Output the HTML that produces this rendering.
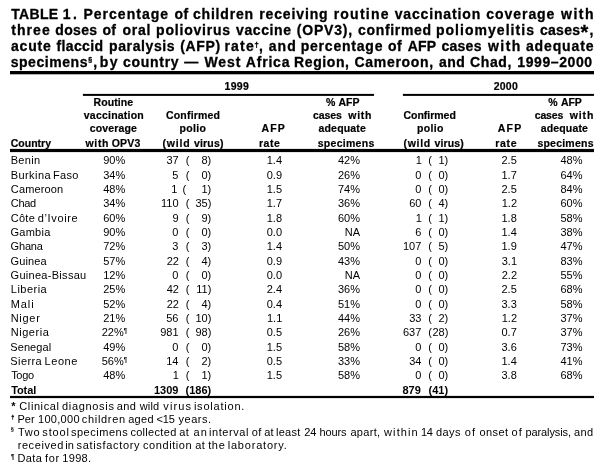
<!DOCTYPE html>
<html lang="en"><head><meta charset="utf-8"><title>TABLE 1</title>
<style>
html,body{margin:0;padding:0;background:#fff;}
body{width:608px;height:473px;overflow:hidden;position:relative;}
svg{position:absolute;left:0;top:0;display:block;}
text{font-family:"Liberation Sans",sans-serif;fill:#000;white-space:pre;}
</style></head><body>
<svg width="608" height="473" viewBox="0 0 608 473">
<rect x="10" y="71" width="584" height="3.299999999999997" fill="#000"/>
<rect x="82.9" y="93.9" width="291.1" height="2.0" fill="#000"/>
<rect x="402.9" y="93.9" width="191.10000000000002" height="2.0" fill="#000"/>
<rect x="10" y="148.9" width="584" height="3.1999999999999886" fill="#000"/>
<rect x="10" y="395.9" width="584" height="2.2000000000000455" fill="#000"/>
<text x="11.20" y="19" style="font-size:14px;font-weight:bold;stroke:#000;stroke-width:0.3px;letter-spacing:0.337px;">TABLE</text>
<text x="62.75" y="19" style="font-size:14px;font-weight:bold;stroke:#000;stroke-width:0.3px;letter-spacing:2.450px;">1.</text>
<text x="83.45" y="19" style="font-size:14px;font-weight:bold;stroke:#000;stroke-width:0.3px;letter-spacing:1.017px;">Percentage</text>
<text x="174.60" y="19" style="font-size:14px;font-weight:bold;stroke:#000;stroke-width:0.3px;letter-spacing:0.250px;">of</text>
<text x="192.95" y="19" style="font-size:14px;font-weight:bold;stroke:#000;stroke-width:0.3px;letter-spacing:0.807px;">children</text>
<text x="259.25" y="19" style="font-size:14px;font-weight:bold;stroke:#000;stroke-width:0.3px;letter-spacing:0.862px;">receiving</text>
<text x="333.65" y="19" style="font-size:14px;font-weight:bold;stroke:#000;stroke-width:0.3px;letter-spacing:1.242px;">routine</text>
<text x="394.70" y="19" style="font-size:14px;font-weight:bold;stroke:#000;stroke-width:0.3px;letter-spacing:0.850px;">vaccination</text>
<text x="486.35" y="19" style="font-size:14px;font-weight:bold;stroke:#000;stroke-width:0.3px;letter-spacing:0.936px;">coverage</text>
<text x="561.10" y="19" style="font-size:14px;font-weight:bold;stroke:#000;stroke-width:0.3px;letter-spacing:1.467px;">with</text>
<text x="11.20" y="35" style="font-size:14px;font-weight:bold;stroke:#000;stroke-width:0.3px;letter-spacing:1.075px;">three</text>
<text x="55.30" y="35" style="font-size:14px;font-weight:bold;stroke:#000;stroke-width:0.3px;letter-spacing:0.350px;">doses</text>
<text x="102.40" y="35" style="font-size:14px;font-weight:bold;stroke:#000;stroke-width:0.3px;letter-spacing:0.250px;">of</text>
<text x="122.45" y="35" style="font-size:14px;font-weight:bold;stroke:#000;stroke-width:0.3px;letter-spacing:0.750px;">oral</text>
<text x="156.05" y="35" style="font-size:14px;font-weight:bold;stroke:#000;stroke-width:0.3px;letter-spacing:0.800px;">poliovirus</text>
<text x="236.10" y="35" style="font-size:14px;font-weight:bold;stroke:#000;stroke-width:0.3px;letter-spacing:0.583px;">vaccine</text>
<text x="296.70" y="35" style="font-size:14px;font-weight:bold;stroke:#000;stroke-width:0.3px;letter-spacing:0.833px;">(OPV3),</text>
<text x="358.05" y="35" style="font-size:14px;font-weight:bold;stroke:#000;stroke-width:0.3px;letter-spacing:0.663px;">confirmed</text>
<text x="435.95" y="35" style="font-size:14px;font-weight:bold;stroke:#000;stroke-width:0.3px;letter-spacing:1.037px;">poliomyelitis</text>
<text x="540.05" y="35" style="font-size:14px;font-weight:bold;stroke:#000;stroke-width:0.3px;letter-spacing:0.250px;">cases</text>
<text x="589.62" y="35" style="font-size:14px;font-weight:bold;stroke:#000;stroke-width:0.3px;letter-spacing:0.250px;">,</text>
<text x="10.95" y="51" style="font-size:14px;font-weight:bold;stroke:#000;stroke-width:0.3px;letter-spacing:0.837px;">acute</text>
<text x="56.50" y="51" style="font-size:14px;font-weight:bold;stroke:#000;stroke-width:0.3px;letter-spacing:0.375px;">flaccid</text>
<text x="109.05" y="51" style="font-size:14px;font-weight:bold;stroke:#000;stroke-width:0.3px;letter-spacing:0.612px;">paralysis</text>
<text x="180.30" y="51" style="font-size:14px;font-weight:bold;stroke:#000;stroke-width:0.3px;letter-spacing:0.637px;">(AFP)</text>
<text x="224.45" y="51" style="font-size:14px;font-weight:bold;stroke:#000;stroke-width:0.3px;letter-spacing:1.183px;">rate</text>
<text x="258.98" y="51" style="font-size:14px;font-weight:bold;stroke:#000;stroke-width:0.3px;letter-spacing:0.250px;">,</text>
<text x="268.85" y="51" style="font-size:14px;font-weight:bold;stroke:#000;stroke-width:0.3px;letter-spacing:0.975px;">and</text>
<text x="300.65" y="51" style="font-size:14px;font-weight:bold;stroke:#000;stroke-width:0.3px;letter-spacing:0.794px;">percentage</text>
<text x="388.10" y="51" style="font-size:14px;font-weight:bold;stroke:#000;stroke-width:0.3px;letter-spacing:0.250px;">of</text>
<text x="407.65" y="51" style="font-size:14px;font-weight:bold;stroke:#000;stroke-width:0.3px;letter-spacing:0.250px;">AFP</text>
<text x="441.50" y="51" style="font-size:14px;font-weight:bold;stroke:#000;stroke-width:0.3px;letter-spacing:0.250px;">cases</text>
<text x="488.00" y="51" style="font-size:14px;font-weight:bold;stroke:#000;stroke-width:0.3px;letter-spacing:1.433px;">with</text>
<text x="525.95" y="51" style="font-size:14px;font-weight:bold;stroke:#000;stroke-width:0.3px;letter-spacing:0.864px;">adequate</text>
<text x="580.60" y="39" style="font-size:20px;font-weight:bold;stroke:#000;stroke-width:0.3px;">*</text>
<text x="254.45" y="47" style="font-size:7.5px;font-weight:bold;stroke:#000;stroke-width:0.35px;">†</text>
<text x="10.70" y="67" style="font-size:14px;font-weight:bold;stroke:#000;stroke-width:0.3px;letter-spacing:0.544px;">specimens</text>
<text x="93.22" y="67" style="font-size:14px;font-weight:bold;stroke:#000;stroke-width:0.3px;letter-spacing:0.250px;">,</text>
<text x="99.85" y="67" style="font-size:14px;font-weight:bold;stroke:#000;stroke-width:0.3px;letter-spacing:1.350px;">by</text>
<text x="123.05" y="67" style="font-size:14px;font-weight:bold;stroke:#000;stroke-width:0.3px;letter-spacing:0.708px;">country</text>
<text x="184.20" y="67" style="font-size:14px;font-weight:bold;stroke:#000;stroke-width:0.3px;letter-spacing:0.250px;">—</text>
<text x="204.40" y="67" style="font-size:14px;font-weight:bold;stroke:#000;stroke-width:0.3px;letter-spacing:0.933px;">West</text>
<text x="245.75" y="67" style="font-size:14px;font-weight:bold;stroke:#000;stroke-width:0.3px;letter-spacing:0.810px;">Africa</text>
<text x="294.05" y="67" style="font-size:14px;font-weight:bold;stroke:#000;stroke-width:0.3px;letter-spacing:0.600px;">Region,</text>
<text x="354.50" y="67" style="font-size:14px;font-weight:bold;stroke:#000;stroke-width:0.3px;letter-spacing:0.700px;">Cameroon,</text>
<text x="438.95" y="67" style="font-size:14px;font-weight:bold;stroke:#000;stroke-width:0.3px;letter-spacing:0.525px;">and</text>
<text x="470.10" y="67" style="font-size:14px;font-weight:bold;stroke:#000;stroke-width:0.3px;letter-spacing:0.600px;">Chad,</text>
<text x="517.25" y="67" style="font-size:14px;font-weight:bold;stroke:#000;stroke-width:0.3px;letter-spacing:0.600px;">1999–2000</text>
<text x="88.25" y="62" style="font-size:7px;font-weight:bold;stroke:#000;stroke-width:0.3px;">§</text>
<text x="224.50" y="90" style="font-size:10.5px;font-weight:bold;stroke:#000;stroke-width:0.2px;letter-spacing:0.333px;">1999</text>
<text x="493.75" y="90" style="font-size:10.5px;font-weight:bold;stroke:#000;stroke-width:0.2px;letter-spacing:0.217px;">2000</text>
<text x="10.75" y="147" style="font-size:10.5px;font-weight:bold;stroke:#000;stroke-width:0.2px;">Country</text>
<text x="93.60" y="106" style="font-size:10.5px;font-weight:bold;stroke:#000;stroke-width:0.2px;letter-spacing:0.075px;">Routine</text>
<text x="83.75" y="119" style="font-size:10.5px;font-weight:bold;stroke:#000;stroke-width:0.2px;letter-spacing:0.225px;">vaccination</text>
<text x="89.75" y="132" style="font-size:10.5px;font-weight:bold;stroke:#000;stroke-width:0.2px;letter-spacing:0.143px;">coverage</text>
<text x="85.50" y="147" style="font-size:10.5px;font-weight:bold;stroke:#000;stroke-width:0.2px;letter-spacing:0.667px;">with</text>
<text x="111.75" y="147" style="font-size:10.5px;font-weight:bold;stroke:#000;stroke-width:0.2px;letter-spacing:0.200px;">OPV3</text>
<text x="166.00" y="119" style="font-size:10.5px;font-weight:bold;stroke:#000;stroke-width:0.2px;letter-spacing:0.188px;">Confirmed</text>
<text x="179.50" y="132" style="font-size:10.5px;font-weight:bold;stroke:#000;stroke-width:0.2px;letter-spacing:0.312px;">polio</text>
<text x="162.55" y="147" style="font-size:10.5px;font-weight:bold;stroke:#000;stroke-width:0.2px;letter-spacing:0.800px;">(wild</text>
<text x="194.00" y="147" style="font-size:10.5px;font-weight:bold;stroke:#000;stroke-width:0.2px;letter-spacing:0.160px;">virus)</text>
<text x="261.50" y="132" style="font-size:10.5px;font-weight:bold;stroke:#000;stroke-width:0.2px;letter-spacing:1.125px;">AFP</text>
<text x="259.00" y="147" style="font-size:10.5px;font-weight:bold;stroke:#000;stroke-width:0.2px;letter-spacing:0.500px;">rate</text>
<text x="326.00" y="106" style="font-size:10.5px;font-weight:bold;stroke:#000;stroke-width:0.2px;">%</text>
<text x="338.60" y="106" style="font-size:10.5px;font-weight:bold;stroke:#000;stroke-width:0.2px;letter-spacing:-0.100px;">AFP</text>
<text x="313.00" y="119" style="font-size:10.5px;font-weight:bold;stroke:#000;stroke-width:0.2px;letter-spacing:-0.062px;">cases</text>
<text x="348.25" y="119" style="font-size:10.5px;font-weight:bold;stroke:#000;stroke-width:0.2px;letter-spacing:0.750px;">with</text>
<text x="318.50" y="132" style="font-size:10.5px;font-weight:bold;stroke:#000;stroke-width:0.2px;letter-spacing:0.179px;">adequate</text>
<text x="317.75" y="147" style="font-size:10.5px;font-weight:bold;stroke:#000;stroke-width:0.2px;letter-spacing:0.281px;">specimens</text>
<text x="403.50" y="119" style="font-size:10.5px;font-weight:bold;stroke:#000;stroke-width:0.2px;letter-spacing:-0.025px;">Confirmed</text>
<text x="417.00" y="132" style="font-size:10.5px;font-weight:bold;stroke:#000;stroke-width:0.2px;letter-spacing:0.312px;">polio</text>
<text x="403.55" y="147" style="font-size:10.5px;font-weight:bold;stroke:#000;stroke-width:0.2px;letter-spacing:0.675px;">(wild</text>
<text x="434.40" y="147" style="font-size:10.5px;font-weight:bold;stroke:#000;stroke-width:0.2px;letter-spacing:0.160px;">virus)</text>
<text x="497.75" y="132" style="font-size:10.5px;font-weight:bold;stroke:#000;stroke-width:0.2px;letter-spacing:1.200px;">AFP</text>
<text x="495.30" y="147" style="font-size:10.5px;font-weight:bold;stroke:#000;stroke-width:0.2px;letter-spacing:0.667px;">rate</text>
<text x="548.25" y="106" style="font-size:10.5px;font-weight:bold;stroke:#000;stroke-width:0.2px;">%</text>
<text x="561.05" y="106" style="font-size:10.5px;font-weight:bold;stroke:#000;stroke-width:0.2px;letter-spacing:-0.100px;">AFP</text>
<text x="534.65" y="119" style="font-size:10.5px;font-weight:bold;stroke:#000;stroke-width:0.2px;letter-spacing:-0.100px;">cases</text>
<text x="569.70" y="119" style="font-size:10.5px;font-weight:bold;stroke:#000;stroke-width:0.2px;letter-spacing:0.900px;">with</text>
<text x="540.85" y="132" style="font-size:10.5px;font-weight:bold;stroke:#000;stroke-width:0.2px;letter-spacing:0.129px;">adequate</text>
<text x="537.40" y="147" style="font-size:10.5px;font-weight:bold;stroke:#000;stroke-width:0.2px;letter-spacing:0.225px;">specimens</text>
<text x="10.70" y="164" style="font-size:11px;letter-spacing:0.337px;">Benin</text>
<text x="103.25" y="164" style="font-size:11px;">90%</text>
<text x="166.50" y="164" style="font-size:11px;">37</text>
<text x="185.80" y="164" style="font-size:11px;">(</text>
<text x="201.50" y="164" style="font-size:11px;">8)</text>
<text x="266.75" y="164" style="font-size:11px;">1.4</text>
<text x="338.00" y="164" style="font-size:11px;">42%</text>
<text x="415.75" y="164" style="font-size:11px;">1</text>
<text x="428.25" y="164" style="font-size:11px;">(</text>
<text x="438.50" y="164" style="font-size:11px;">1)</text>
<text x="501.50" y="164" style="font-size:11px;">2.5</text>
<text x="560.50" y="164" style="font-size:11px;">48%</text>
<text x="10.70" y="179" style="font-size:11px;letter-spacing:0.433px;">Burkina</text>
<text x="53.10" y="179" style="font-size:11px;letter-spacing:0.267px;">Faso</text>
<text x="103.25" y="179" style="font-size:11px;">34%</text>
<text x="172.25" y="179" style="font-size:11px;">5</text>
<text x="185.80" y="179" style="font-size:11px;">(</text>
<text x="201.50" y="179" style="font-size:11px;">0)</text>
<text x="266.75" y="179" style="font-size:11px;">0.9</text>
<text x="338.00" y="179" style="font-size:11px;">26%</text>
<text x="415.25" y="179" style="font-size:11px;">0</text>
<text x="428.25" y="179" style="font-size:11px;">(</text>
<text x="438.50" y="179" style="font-size:11px;">0)</text>
<text x="501.50" y="179" style="font-size:11px;">1.7</text>
<text x="560.50" y="179" style="font-size:11px;">64%</text>
<text x="10.85" y="193" style="font-size:11px;letter-spacing:0.114px;">Cameroon</text>
<text x="103.25" y="193" style="font-size:11px;">48%</text>
<text x="171.25" y="193" style="font-size:11px;">1</text>
<text x="182.50" y="193" style="font-size:11px;">(</text>
<text x="201.50" y="193" style="font-size:11px;">1)</text>
<text x="266.75" y="193" style="font-size:11px;">1.5</text>
<text x="338.00" y="193" style="font-size:11px;">74%</text>
<text x="415.25" y="193" style="font-size:11px;">0</text>
<text x="428.25" y="193" style="font-size:11px;">(</text>
<text x="438.50" y="193" style="font-size:11px;">0)</text>
<text x="501.50" y="193" style="font-size:11px;">2.5</text>
<text x="560.50" y="193" style="font-size:11px;">84%</text>
<text x="10.75" y="207" style="font-size:11px;letter-spacing:-0.300px;">Chad</text>
<text x="103.25" y="207" style="font-size:11px;">34%</text>
<text x="161.00" y="207" style="font-size:11px;">110</text>
<text x="185.80" y="207" style="font-size:11px;">(</text>
<text x="195.50" y="207" style="font-size:11px;">35)</text>
<text x="266.75" y="207" style="font-size:11px;">1.7</text>
<text x="338.00" y="207" style="font-size:11px;">36%</text>
<text x="409.25" y="207" style="font-size:11px;">60</text>
<text x="428.25" y="207" style="font-size:11px;">(</text>
<text x="438.50" y="207" style="font-size:11px;">4)</text>
<text x="501.75" y="207" style="font-size:11px;">1.2</text>
<text x="560.50" y="207" style="font-size:11px;">60%</text>
<text x="10.85" y="222" style="font-size:11px;letter-spacing:0.233px;">Côte</text>
<text x="37.80" y="222" style="font-size:11px;letter-spacing:0.629px;">d’Ivoire</text>
<text x="103.25" y="222" style="font-size:11px;">60%</text>
<text x="172.50" y="222" style="font-size:11px;">9</text>
<text x="185.80" y="222" style="font-size:11px;">(</text>
<text x="201.50" y="222" style="font-size:11px;">9)</text>
<text x="266.75" y="222" style="font-size:11px;">1.8</text>
<text x="338.00" y="222" style="font-size:11px;">60%</text>
<text x="415.75" y="222" style="font-size:11px;">1</text>
<text x="428.25" y="222" style="font-size:11px;">(</text>
<text x="438.50" y="222" style="font-size:11px;">1)</text>
<text x="501.50" y="222" style="font-size:11px;">1.8</text>
<text x="560.50" y="222" style="font-size:11px;">58%</text>
<text x="10.55" y="236" style="font-size:11px;letter-spacing:0.240px;">Gambia</text>
<text x="103.25" y="236" style="font-size:11px;">90%</text>
<text x="172.25" y="236" style="font-size:11px;">0</text>
<text x="185.80" y="236" style="font-size:11px;">(</text>
<text x="201.50" y="236" style="font-size:11px;">0)</text>
<text x="266.75" y="236" style="font-size:11px;">0.0</text>
<text x="344.75" y="236" style="font-size:11px;">NA</text>
<text x="415.25" y="236" style="font-size:11px;">6</text>
<text x="428.25" y="236" style="font-size:11px;">(</text>
<text x="438.50" y="236" style="font-size:11px;">0)</text>
<text x="501.50" y="236" style="font-size:11px;">1.4</text>
<text x="560.50" y="236" style="font-size:11px;">38%</text>
<text x="10.55" y="250" style="font-size:11px;letter-spacing:-0.163px;">Ghana</text>
<text x="103.25" y="250" style="font-size:11px;">72%</text>
<text x="172.25" y="250" style="font-size:11px;">3</text>
<text x="185.80" y="250" style="font-size:11px;">(</text>
<text x="201.50" y="250" style="font-size:11px;">3)</text>
<text x="266.75" y="250" style="font-size:11px;">1.4</text>
<text x="338.00" y="250" style="font-size:11px;">50%</text>
<text x="403.00" y="250" style="font-size:11px;">107</text>
<text x="428.25" y="250" style="font-size:11px;">(</text>
<text x="438.50" y="250" style="font-size:11px;">5)</text>
<text x="501.50" y="250" style="font-size:11px;">1.9</text>
<text x="560.50" y="250" style="font-size:11px;">47%</text>
<text x="10.55" y="265" style="font-size:11px;letter-spacing:0.130px;">Guinea</text>
<text x="103.25" y="265" style="font-size:11px;">57%</text>
<text x="166.75" y="265" style="font-size:11px;">22</text>
<text x="185.80" y="265" style="font-size:11px;">(</text>
<text x="201.50" y="265" style="font-size:11px;">4)</text>
<text x="266.75" y="265" style="font-size:11px;">0.9</text>
<text x="338.00" y="265" style="font-size:11px;">43%</text>
<text x="415.25" y="265" style="font-size:11px;">0</text>
<text x="428.25" y="265" style="font-size:11px;">(</text>
<text x="438.50" y="265" style="font-size:11px;">0)</text>
<text x="501.75" y="265" style="font-size:11px;">3.1</text>
<text x="560.50" y="265" style="font-size:11px;">83%</text>
<text x="10.55" y="279" style="font-size:11px;letter-spacing:0.292px;">Guinea-Bissau</text>
<text x="103.25" y="279" style="font-size:11px;">12%</text>
<text x="172.25" y="279" style="font-size:11px;">0</text>
<text x="185.80" y="279" style="font-size:11px;">(</text>
<text x="201.50" y="279" style="font-size:11px;">0)</text>
<text x="266.75" y="279" style="font-size:11px;">0.0</text>
<text x="344.75" y="279" style="font-size:11px;">NA</text>
<text x="415.25" y="279" style="font-size:11px;">0</text>
<text x="428.25" y="279" style="font-size:11px;">(</text>
<text x="438.50" y="279" style="font-size:11px;">0)</text>
<text x="501.75" y="279" style="font-size:11px;">2.2</text>
<text x="560.50" y="279" style="font-size:11px;">55%</text>
<text x="10.80" y="293" style="font-size:11px;letter-spacing:0.483px;">Liberia</text>
<text x="103.25" y="293" style="font-size:11px;">25%</text>
<text x="166.75" y="293" style="font-size:11px;">42</text>
<text x="185.80" y="293" style="font-size:11px;">(</text>
<text x="196.25" y="293" style="font-size:11px;">11)</text>
<text x="266.75" y="293" style="font-size:11px;">2.4</text>
<text x="338.00" y="293" style="font-size:11px;">36%</text>
<text x="415.25" y="293" style="font-size:11px;">0</text>
<text x="428.25" y="293" style="font-size:11px;">(</text>
<text x="438.50" y="293" style="font-size:11px;">0)</text>
<text x="501.50" y="293" style="font-size:11px;">2.5</text>
<text x="560.50" y="293" style="font-size:11px;">68%</text>
<text x="10.70" y="308" style="font-size:11px;letter-spacing:0.933px;">Mali</text>
<text x="103.25" y="308" style="font-size:11px;">52%</text>
<text x="166.75" y="308" style="font-size:11px;">22</text>
<text x="185.80" y="308" style="font-size:11px;">(</text>
<text x="201.50" y="308" style="font-size:11px;">4)</text>
<text x="266.75" y="308" style="font-size:11px;">0.4</text>
<text x="338.00" y="308" style="font-size:11px;">51%</text>
<text x="415.25" y="308" style="font-size:11px;">0</text>
<text x="428.25" y="308" style="font-size:11px;">(</text>
<text x="438.50" y="308" style="font-size:11px;">0)</text>
<text x="501.50" y="308" style="font-size:11px;">3.3</text>
<text x="560.50" y="308" style="font-size:11px;">58%</text>
<text x="10.70" y="322" style="font-size:11px;letter-spacing:0.712px;">Niger</text>
<text x="103.25" y="322" style="font-size:11px;">21%</text>
<text x="166.25" y="322" style="font-size:11px;">56</text>
<text x="185.80" y="322" style="font-size:11px;">(</text>
<text x="195.50" y="322" style="font-size:11px;">10)</text>
<text x="267.00" y="322" style="font-size:11px;">1.1</text>
<text x="338.00" y="322" style="font-size:11px;">44%</text>
<text x="409.25" y="322" style="font-size:11px;">33</text>
<text x="428.25" y="322" style="font-size:11px;">(</text>
<text x="438.50" y="322" style="font-size:11px;">2)</text>
<text x="501.75" y="322" style="font-size:11px;">1.2</text>
<text x="560.50" y="322" style="font-size:11px;">37%</text>
<text x="10.70" y="336" style="font-size:11px;letter-spacing:0.558px;">Nigeria</text>
<text x="101.65" y="336" style="font-size:11px;">22%</text>
<text transform="translate(123.82,333) scale(0.72,1)" style="font-size:8px;font-weight:bold;">¶</text>
<text x="160.25" y="336" style="font-size:11px;">981</text>
<text x="185.80" y="336" style="font-size:11px;">(</text>
<text x="195.50" y="336" style="font-size:11px;">98)</text>
<text x="266.75" y="336" style="font-size:11px;">0.5</text>
<text x="338.00" y="336" style="font-size:11px;">26%</text>
<text x="403.00" y="336" style="font-size:11px;">637</text>
<text x="428.25" y="336" style="font-size:11px;">(</text>
<text x="432.50" y="336" style="font-size:11px;">28)</text>
<text x="501.50" y="336" style="font-size:11px;">0.7</text>
<text x="560.50" y="336" style="font-size:11px;">37%</text>
<text x="10.30" y="351" style="font-size:11px;letter-spacing:0.083px;">Senegal</text>
<text x="103.25" y="351" style="font-size:11px;">49%</text>
<text x="172.25" y="351" style="font-size:11px;">0</text>
<text x="185.80" y="351" style="font-size:11px;">(</text>
<text x="201.50" y="351" style="font-size:11px;">0)</text>
<text x="266.75" y="351" style="font-size:11px;">1.5</text>
<text x="338.00" y="351" style="font-size:11px;">58%</text>
<text x="415.25" y="351" style="font-size:11px;">0</text>
<text x="428.25" y="351" style="font-size:11px;">(</text>
<text x="438.50" y="351" style="font-size:11px;">0)</text>
<text x="501.50" y="351" style="font-size:11px;">3.6</text>
<text x="560.50" y="351" style="font-size:11px;">73%</text>
<text x="10.30" y="365" style="font-size:11px;letter-spacing:0.400px;">Sierra</text>
<text x="44.40" y="365" style="font-size:11px;letter-spacing:0.625px;">Leone</text>
<text x="101.65" y="365" style="font-size:11px;">56%</text>
<text transform="translate(123.82,362) scale(0.72,1)" style="font-size:8px;font-weight:bold;">¶</text>
<text x="166.25" y="365" style="font-size:11px;">14</text>
<text x="185.80" y="365" style="font-size:11px;">(</text>
<text x="201.50" y="365" style="font-size:11px;">2)</text>
<text x="266.75" y="365" style="font-size:11px;">0.5</text>
<text x="338.00" y="365" style="font-size:11px;">33%</text>
<text x="409.25" y="365" style="font-size:11px;">34</text>
<text x="428.25" y="365" style="font-size:11px;">(</text>
<text x="438.50" y="365" style="font-size:11px;">0)</text>
<text x="501.50" y="365" style="font-size:11px;">1.4</text>
<text x="560.50" y="365" style="font-size:11px;">41%</text>
<text x="11.18" y="379" style="font-size:11px;letter-spacing:-0.300px;">Togo</text>
<text x="103.25" y="379" style="font-size:11px;">48%</text>
<text x="172.75" y="379" style="font-size:11px;">1</text>
<text x="185.80" y="379" style="font-size:11px;">(</text>
<text x="201.50" y="379" style="font-size:11px;">1)</text>
<text x="266.75" y="379" style="font-size:11px;">1.5</text>
<text x="338.00" y="379" style="font-size:11px;">58%</text>
<text x="415.25" y="379" style="font-size:11px;">0</text>
<text x="428.25" y="379" style="font-size:11px;">(</text>
<text x="438.50" y="379" style="font-size:11px;">0)</text>
<text x="501.50" y="379" style="font-size:11px;">3.8</text>
<text x="560.50" y="379" style="font-size:11px;">68%</text>
<text x="11.15" y="394" style="font-size:11px;font-weight:bold;letter-spacing:-0.100px;">Total</text>
<text x="154.00" y="394" style="font-size:11px;font-weight:bold;">1309</text>
<text x="185.50" y="394" style="font-size:11px;font-weight:bold;">(186)</text>
<text x="402.50" y="394" style="font-size:11px;font-weight:bold;">879</text>
<text x="428.50" y="394" style="font-size:11px;font-weight:bold;">(41)</text>
<text x="11.35" y="410" style="font-size:11px;font-weight:bold;">*</text>
<text x="19.35" y="410" style="font-size:11px;letter-spacing:0.579px;">Clinical</text>
<text x="62.00" y="410" style="font-size:11px;letter-spacing:0.675px;">diagnosis</text>
<text x="116.70" y="410" style="font-size:11px;letter-spacing:0.425px;">and</text>
<text x="139.70" y="410" style="font-size:11px;letter-spacing:0.200px;">wild</text>
<text x="163.30" y="410" style="font-size:11px;letter-spacing:1.100px;">virus</text>
<text x="193.90" y="410" style="font-size:11px;letter-spacing:0.789px;">isolation.</text>
<text x="11.35" y="419" style="font-size:5.5px;font-weight:bold;stroke:#000;stroke-width:0.3px;">†</text>
<text x="17.50" y="423" style="font-size:11px;letter-spacing:0.025px;">Per</text>
<text x="38.00" y="423" style="font-size:11px;letter-spacing:0.292px;">100,000</text>
<text x="81.80" y="423" style="font-size:11px;letter-spacing:0.686px;">children</text>
<text x="128.20" y="423" style="font-size:11px;letter-spacing:0.317px;">aged</text>
<text x="156.45" y="423" style="font-size:11px;letter-spacing:-0.075px;">&lt;15</text>
<text x="178.60" y="423" style="font-size:11px;letter-spacing:0.500px;">years.</text>
<text x="10.75" y="431" style="font-size:5.5px;font-weight:bold;">§</text>
<text x="17.90" y="436" style="font-size:11px;letter-spacing:0.725px;">Two</text>
<text x="42.35" y="436" style="font-size:11px;letter-spacing:0.862px;">stool</text>
<text x="70.95" y="436" style="font-size:11px;letter-spacing:0.519px;">specimens</text>
<text x="130.40" y="436" style="font-size:11px;letter-spacing:0.306px;">collected</text>
<text x="179.20" y="436" style="font-size:11px;letter-spacing:0.450px;">at</text>
<text x="193.57" y="436" style="font-size:11px;letter-spacing:1.100px;">an</text>
<text x="209.10" y="436" style="font-size:11px;letter-spacing:0.543px;">interval</text>
<text x="251.70" y="436" style="font-size:11px;letter-spacing:0.400px;">of</text>
<text x="264.30" y="436" style="font-size:11px;letter-spacing:0.050px;">at</text>
<text x="276.00" y="436" style="font-size:11px;letter-spacing:0.250px;">least</text>
<text x="304.35" y="436" style="font-size:11px;letter-spacing:-0.300px;">24</text>
<text x="319.55" y="436" style="font-size:11px;letter-spacing:-0.163px;">hours</text>
<text x="350.40" y="436" style="font-size:11px;letter-spacing:0.320px;">apart,</text>
<text x="384.07" y="436" style="font-size:11px;letter-spacing:1.100px;">within</text>
<text x="421.02" y="436" style="font-size:11px;letter-spacing:-0.300px;">14</text>
<text x="436.00" y="436" style="font-size:11px;letter-spacing:0.400px;">days</text>
<text x="464.85" y="436" style="font-size:11px;letter-spacing:1.100px;">of</text>
<text x="479.50" y="436" style="font-size:11px;letter-spacing:0.400px;">onset</text>
<text x="511.55" y="436" style="font-size:11px;letter-spacing:1.100px;">of</text>
<text x="525.55" y="436" style="font-size:11px;letter-spacing:-0.111px;">paralysis,</text>
<text x="574.10" y="436" style="font-size:11px;letter-spacing:0.375px;">and</text>
<text x="17.65" y="449" style="font-size:11px;letter-spacing:0.593px;">received</text>
<text x="65.30" y="449" style="font-size:11px;letter-spacing:-0.100px;">in</text>
<text x="76.55" y="449" style="font-size:11px;letter-spacing:0.668px;">satisfactory</text>
<text x="143.00" y="449" style="font-size:11px;letter-spacing:0.569px;">condition</text>
<text x="195.30" y="449" style="font-size:11px;letter-spacing:0.450px;">at</text>
<text x="208.15" y="449" style="font-size:11px;letter-spacing:0.675px;">the</text>
<text x="227.70" y="449" style="font-size:11px;letter-spacing:0.800px;">laboratory.</text>
<text transform="translate(11.01,459) scale(0.75,1)" style="font-size:8px;font-weight:bold;">¶</text>
<text x="17.50" y="462" style="font-size:11px;letter-spacing:0.367px;">Data</text>
<text x="44.95" y="462" style="font-size:11px;letter-spacing:0.725px;">for</text>
<text x="62.30" y="462" style="font-size:11px;letter-spacing:0.325px;">1998.</text>
</svg>
</body></html>
